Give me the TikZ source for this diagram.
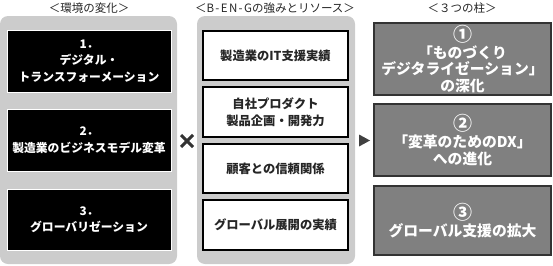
\documentclass[tikz,border=0pt]{standalone}
\usepackage{fontspec}
\usetikzlibrary{calc}
\setmainfont{Noto Sans CJK JP}
\newcommand{\bignum}[1]{{\fontsize{19}{16.6}\selectfont #1}}
\begin{document}
\begin{tikzpicture}[x=1pt,y=-1pt,
  panel/.style={fill=black!20,draw=none,rounded corners=8pt},
  header/.style={font=\fontsize{11.5}{12}\selectfont,text=black!85},
  blackbox/.style={fill=black,draw=white,line width=0.8pt,text=white,align=center,inner sep=0pt,font=\bfseries\fontsize{11.8}{16.5}\selectfont},
  whitebox/.style={fill=white,draw=black,line width=1.3pt,text=black!85,align=center,inner sep=0pt,font=\bfseries\fontsize{12.3}{17}\selectfont},
  graybox/.style={fill=black!50,draw=black!80,line width=1.3pt,text=white,align=center,inner sep=0pt,font=\bfseries\fontsize{14.8}{16.6}\selectfont}
]
\useasboundingbox (0,0) rectangle (553,265);
% panels
\fill[panel] (0,16) rectangle (177,264);
\fill[panel] (197,16) rectangle (355,264);
% headers
\node[header] (h1) at (89,8) {＜環境の変化＞};
\node[header] (h2) at (275,8) {＜{\addfontfeatures{LetterSpace=12}B-EN-G}の強みとリソース＞};
\node[header] (h3) at (462,8) {＜３つの柱＞};
% left boxes
\node[blackbox,minimum width=164pt,minimum height=62pt] (l1) at (89,61) {1．\\デジタル・\\トランスフォーメーション};
\node[blackbox,minimum width=164pt,minimum height=62pt] (l2) at (89,140) {2．\\製造業のビジネスモデル変革};
\node[blackbox,minimum width=164pt,minimum height=61pt] (l3) at (89,219.5) {3．\\グローバリゼーション};
% middle boxes
\node[whitebox,minimum width=145pt,minimum height=49pt] (m1) at (275.5,55.5) {製造業のIT支援実績};
\node[whitebox,minimum width=145pt,minimum height=50pt] (m2) at (275.5,112) {自社プロダクト\\製品企画・開発力};
\node[whitebox,minimum width=145pt,minimum height=49pt] (m3) at (275.5,168.5) {顧客との信頼関係};
\node[whitebox,minimum width=145pt,minimum height=50pt] (m4) at (275.5,225) {グローバル展開の実績};
% right boxes
\node[graybox,minimum width=177pt,minimum height=72pt] (r1) at (462.5,59) {\bignum{①}\\「ものづくり\\デジタライゼーション」\\の深化};
\node[graybox,minimum width=177pt,minimum height=72pt] (r2) at (462.5,140) {\bignum{②}\\「変革のためのDX」\\への進化};
\node[graybox,minimum width=177pt,minimum height=69pt] (r3) at (462.5,220.5) {\bignum{③}\\グローバル支援の拡大};
% times sign
\coordinate (xc) at (187,141);
\draw[black!80,line width=3pt] ($(xc)+(-6,-6)$) -- ($(xc)+(6,6)$);
\draw[black!80,line width=3pt] ($(xc)+(-6,6)$) -- ($(xc)+(6,-6)$);
% triangle
\fill[black!75] (359,134.5) -- (370,140.5) -- (359,146.5) -- cycle;
\end{tikzpicture}
\end{document}
